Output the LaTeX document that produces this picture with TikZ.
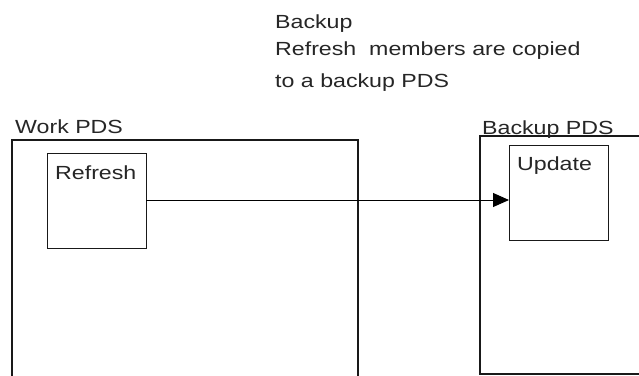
\documentclass[tikz,border=0pt]{standalone}
\usepackage{fontspec}
\setmainfont{Liberation Sans}[FakeStretch=1.22]
\usetikzlibrary{arrows.meta}
\begin{document}
\begin{tikzpicture}[x=1pt,y=-1pt,
  boxline/.style={draw=black!90,line width=1.3pt},
  member/.style={boxline,rectangle,inner sep=0pt,anchor=north west},
  lbl/.style={inner sep=0pt,anchor=base west,font=\fontsize{19}{22}\selectfont,text=black!85}]
\useasboundingbox (0,0) rectangle (639,375);
% outer PDS boxes
\coordinate (wbl) at (12,376);
\coordinate (wtl) at (12,140);
\coordinate (wtr) at (358,140);
\coordinate (wbr) at (358,376);
\draw[boxline] (wbl) -- (wtl) -- (wtr) -- (wbr);
\coordinate (btr) at (641,136);
\coordinate (btl) at (480,136);
\coordinate (bbl) at (480,374);
\coordinate (bbr) at (641,374);
\draw[boxline] (btr) -- (btl) -- (bbl) -- (bbr);
% member boxes
\node[member,minimum width=99pt,minimum height=95pt] (refresh) at (47,153) {};
\node[member,minimum width=99pt,minimum height=95pt] (update) at (509,145) {};
% labels
\node[lbl] (tworkpds) at (15,133) {Work PDS};
\node[lbl] (tbackuppds) at (482,134) {Backup PDS};
\node[lbl] (trefresh) at (55,179) {Refresh};
\node[lbl] (tupdate) at (517,170) {Update};
\node[lbl] (t1) at (275,28) {Backup};
\node[lbl] (t2) at (275,55) {Refresh\ \ members are copied};
\node[lbl] (t3) at (275,87) {to a backup PDS};
% connector
\coordinate (astart) at (146,200);
\draw[line width=1pt,-{Triangle[length=16pt,width=14pt]}] (astart) -- (astart -| update.west);
\end{tikzpicture}
\end{document}
